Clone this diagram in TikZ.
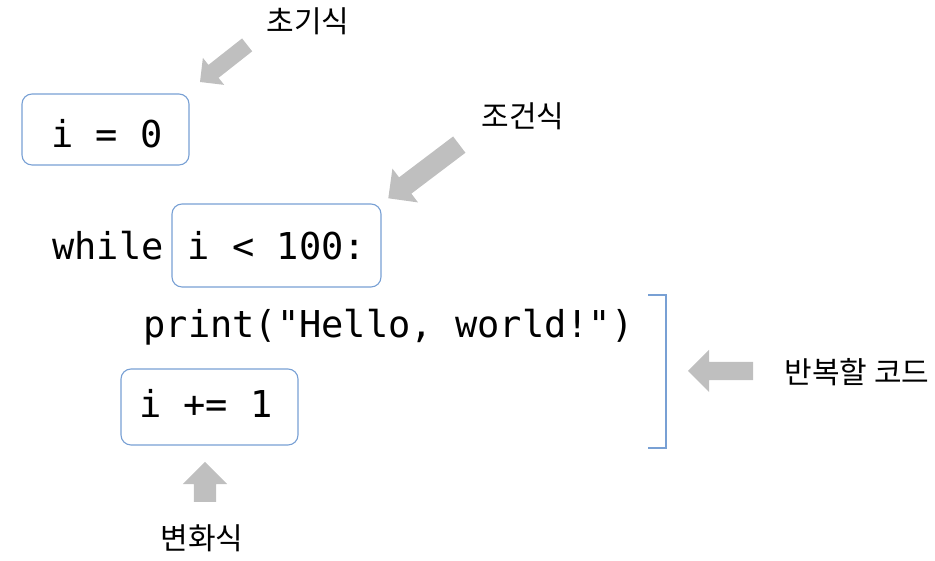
\documentclass[tikz,border=0pt]{standalone}
\usepackage{fontspec}
\setmonofont{DejaVu Sans Mono}
\newfontfamily\kofont{Noto Sans CJK KR}
\usetikzlibrary{shapes.arrows}
\definecolor{boxblue}{RGB}{120,160,212}
\definecolor{arrowgray}{RGB}{191,191,191}
\begin{document}
\begin{tikzpicture}[x=1pt,y=1pt,
  codebox/.style={draw=boxblue, line width=1.1pt, rounded corners=10pt, inner sep=0pt},
  code/.style={font=\ttfamily\fontsize{37}{40}\selectfont, inner sep=0pt, anchor=base},
  klabel/.style={font=\kofont\fontsize{30}{34}\selectfont, inner sep=0pt},
  garrow/.style={single arrow, fill=arrowgray, draw=none, anchor=tip, outer sep=0pt}]
\useasboundingbox (0,0) rectangle (935,561);
% boxes
\node[codebox, minimum width=167pt, minimum height=71pt] (b1) at (105.5,431.5) {};
\node[codebox, minimum width=209pt, minimum height=83pt] (b2) at (276.5,315.5) {};
\node[codebox, minimum width=177pt, minimum height=76pt] (b3) at (209.5,154) {};
% code text
\node[code] (init) at (107,413) {i = 0};
\node[code] (kw) at (108,301) {while};
\node[code] (cond) at (277,301) {i < 100:};
\node[code] (body) at (388.5,223) {print("Hello, world!")};
\node[code] (inc) at (206,143) {i += 1};
% bracket
\coordinate (brt0) at (648,266);
\coordinate (brt1) at (666,266);
\coordinate (brb1) at (666,113);
\coordinate (brb0) at (648,113);
\draw[boxblue, line width=1.1pt] (brt0) -- (brt1) -- (brb1) -- (brb0);
% labels
\node[klabel] (l1) at (308,540) {초기식};
\node[klabel] (l2) at (523,445) {조건식};
\node[klabel] (l3) at (857,189) {반복할 코드};
\node[klabel] (l4) at (202,23) {변화식};
% arrows
\node[garrow, rotate=218.2, minimum height=60pt, inner sep=8pt, single arrow head extend=9pt] (a1) at (200,479) {};
\node[garrow, rotate=217.1, minimum height=89pt, inner sep=10pt, single arrow head extend=11pt] (a2) at (388.3,362.7) {};
\node[garrow, rotate=180, minimum height=65pt, inner sep=9pt, single arrow head extend=12pt] (a3) at (688,190) {};
\node[garrow, rotate=90, minimum height=40pt, inner sep=11pt, single arrow head extend=11pt] (a4) at (205,99) {};
\end{tikzpicture}
\end{document}
